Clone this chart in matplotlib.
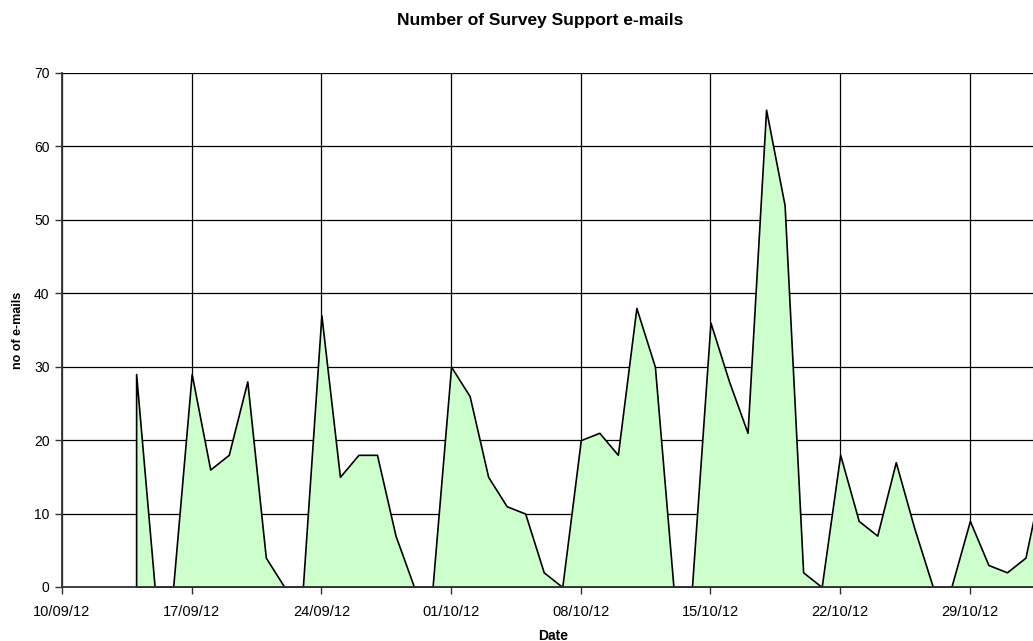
import matplotlib
matplotlib.use("Agg")
import matplotlib.pyplot as plt
import matplotlib.dates as mdates
import pandas as pd

# Daily counts of support e-mails
start_date = "2012-09-14"
emails = [29, 0, 0, 29, 16, 18, 28, 4, 0, 0,
          37, 15, 18, 18, 7, 0, 0, 30, 26, 15,
          11, 10, 2, 0, 20, 21, 18, 38, 30, 0,
          0, 36, 28, 21, 65, 52, 2, 0, 18, 9,
          7, 17, 8, 0, 0, 9, 3, 2, 4, 16]
dates = pd.date_range(start_date, periods=len(emails), freq="D")

x_start = pd.Timestamp("2012-09-10")
x_end = pd.Timestamp("2012-11-02")
y_ticks = [0, 10, 20, 30, 40, 50, 60, 70]

title = "Number of Survey Support e-mails"
x_label = "Date"
y_label = "no of e-mails"

plt.rcParams["font.family"] = ["Liberation Sans", "DejaVu Sans"]

W, H = 1033, 641
fig = plt.figure(figsize=(W / 100, H / 100), dpi=100)
left, right, bottom, top = 62, 1044, 587, 73
ax = fig.add_axes([left / W, 1 - bottom / H, (right - left) / W, (bottom - top) / H])

ax.fill_between(dates, emails, 0, facecolor="#CCFFCC", edgecolor="black",
                linewidth=1.2, zorder=3)

ax.set_xlim(x_start, x_end)
ax.set_ylim(0, 70)
ax.set_yticks(y_ticks)
ax.set_xticks(pd.date_range(x_start, x_end, freq="7D"))
ax.xaxis.set_major_formatter(mdates.DateFormatter("%d/%m/%y"))

ax.grid(True, color="black", linewidth=0.9, zorder=1)
ax.set_axisbelow(True)
for s in ["top", "right"]:
    ax.spines[s].set_visible(False)
for s in ["left", "bottom"]:
    ax.spines[s].set_color("#333333")
    ax.spines[s].set_linewidth(1.3)
    ax.spines[s].set_zorder(4)

ax.tick_params(axis="both", direction="out", length=5, width=1, color="#333333")
ax.tick_params(axis="x", pad=8, labelsize=10.5)
ax.tick_params(axis="y", pad=4, labelsize=10)

ax.set_xlabel(x_label, fontsize=10, fontweight="bold", labelpad=7)
ax.set_ylabel(y_label, fontsize=9, fontweight="bold", labelpad=7)
fig.text(540 / W, 1 - 25 / H, title, ha="center", va="baseline",
         fontsize=12.5, fontweight="bold")

fig.savefig("out.png", dpi=100)
